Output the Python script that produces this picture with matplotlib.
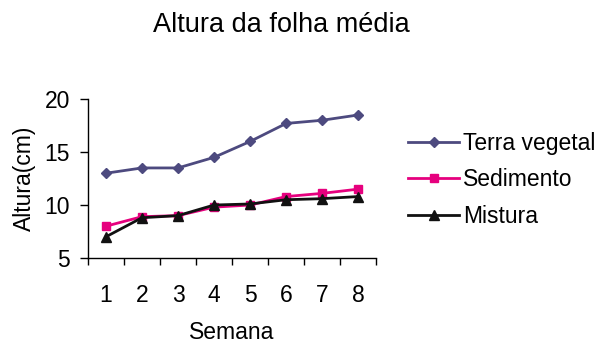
import matplotlib
matplotlib.use("Agg")
import matplotlib.pyplot as plt
import numpy as np

plt.rcParams['font.family'] = ['Liberation Sans', 'DejaVu Sans']

semanas = ["1", "2", "3", "4", "5", "6", "7", "8"]
terra_vegetal = [13.0, 13.5, 13.5, 14.5, 16.0, 17.7, 18.0, 18.5]
sedimento = [8.0, 8.9, 9.0, 9.8, 10.0, 10.8, 11.1, 11.5]
mistura = [7.0, 8.8, 9.0, 10.0, 10.1, 10.5, 10.6, 10.8]
y_ticks = [5, 10, 15, 20]

fig = plt.figure(figsize=(6.02, 3.44), dpi=100)
ax = fig.add_axes([0.146, 0.25, 0.479, 0.462])

x = np.arange(len(semanas))
ax.plot(x, terra_vegetal, color='#4D4A7F', marker='D', markersize=5, lw=2, label='Terra vegetal')
ax.plot(x, sedimento, color='#E6007E', marker='s', markersize=6, lw=2, label='Sedimento')
ax.plot(x, mistura, color='#111111', marker='^', markersize=7, lw=2, label='Mistura')

ax.set_xlim(-0.5, len(semanas) - 0.5)
ax.set_ylim(5, 20)
ax.set_yticks(y_ticks)
ax.set_xticks(x)
ax.set_xticklabels(semanas)
ax.set_xticks(np.arange(-0.5, len(semanas)), minor=True)
ax.tick_params(axis='x', which='major', length=0, pad=19, labelsize=16.5)
ax.tick_params(axis='x', which='minor', length=5, width=1, direction='out')
ax.tick_params(axis='y', length=6, width=1, direction='out', labelsize=16.5, pad=7)

for s in ['top', 'right']:
    ax.spines[s].set_visible(False)
for s in ['left', 'bottom']:
    ax.spines[s].set_linewidth(1)

ax.set_xlabel('Semana', fontsize=16.5, labelpad=10)
ax.set_ylabel('Altura(cm)', fontsize=16.5, labelpad=6)
fig.suptitle('Altura da folha média', fontsize=19.5, x=0.468, y=0.965)

fig.legend(loc='upper left', bbox_to_anchor=(0.663, 0.643), frameon=False,
           borderaxespad=0, fontsize=16.5, handlelength=2.2,
           handletextpad=0.2, labelspacing=0.58)

fig.savefig('out.png', dpi=100)
